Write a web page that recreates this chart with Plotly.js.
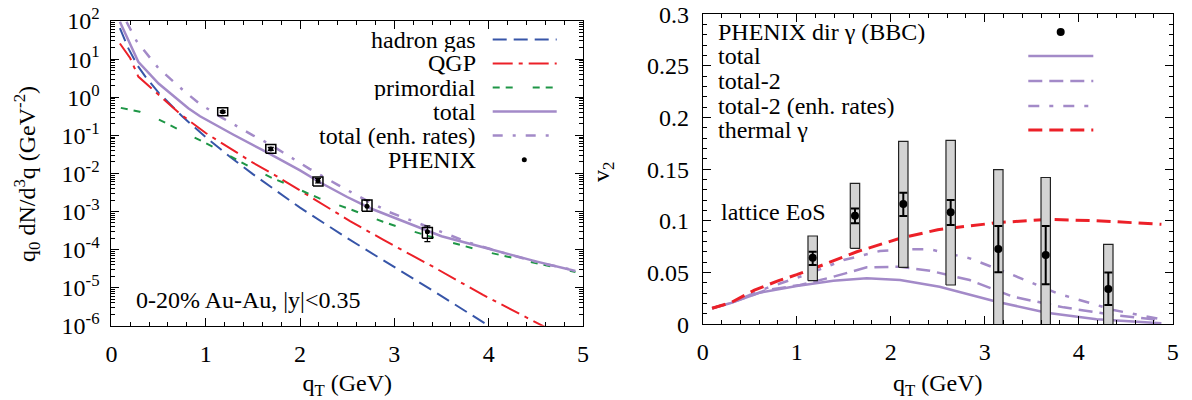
<!DOCTYPE html>
<html><head><meta charset="utf-8">
<script src="https://cdn.plot.ly/plotly-3.0.1.min.js"></script>
<style>html,body{margin:0;padding:0;background:#fff}#chart{width:1192px;height:400px}</style>
</head><body><div id="chart"></div>
<script>
// ---------- Left panel: q0 dN/d3q vs qT ----------
const hgQ = [0.09,0.18,0.28,0.36,0.5,0.75,1.0,1.25,1.5,1.75,2.0,2.5,3.0,3.5,4.0,4.1];
const hgY = [64.6,19.1,6.61,3.47,1.32,0.316,0.0891,0.0282,9.55e-3,3.39e-3,1.26e-3,2.0e-4,3.55e-5,6.03e-6,1.0e-6,6.92e-7];
const qgpQ = [0.09,0.2,0.285,0.5,0.73,1.0,1.3,1.5,1.75,2.0,2.53,2.88,3.41,3.94,4.56,4.65];
const qgpY = [25.7,10.5,3.47,1.15,0.363,0.115,0.0380,0.0191,8.51e-3,3.55e-3,5.62e-4,1.82e-4,3.55e-5,6.46e-6,1.05e-6,7.94e-7];
const primQ = [0.1,0.3,0.515,0.69,0.92,1.1,1.33,1.46,1.72,1.84,2.2,2.53,2.88,3.06,3.48,3.94,4.37,4.92];
const primY = [0.525,0.417,0.251,0.151,0.0794,0.0468,0.0229,0.0151,7.24e-3,5.50e-3,2.24e-3,1.15e-3,5.37e-4,3.80e-4,1.86e-4,9.12e-5,5.25e-5,2.57e-5];
const totQ = [0.09,0.285,0.5,0.815,0.94,1.17,1.29,1.65,2.0,2.2,2.35,2.5,2.75,3.0,3.35,3.5,4.0,4.5,4.92];
const totY = [95.5,8.51,2.29,0.513,0.316,0.151,0.105,0.0355,0.0120,6.03e-3,3.80e-3,2.40e-3,1.20e-3,6.76e-4,3.02e-4,2.24e-4,1.05e-4,4.90e-5,2.75e-5];
const enhQ = [0.16,0.27,0.5,0.78,0.94,1.18,1.5,1.69,1.82,2.1,2.4,2.62,2.95,3.45,3.8,4.2,4.6,4.92];
const enhY = [95.5,28.8,5.75,1.38,0.661,0.282,0.1,0.0562,0.0355,0.0132,5.01e-3,2.51e-3,9.55e-4,3.16e-4,1.51e-4,7.59e-5,4.17e-5,2.82e-5];
const phxQ = [1.18,1.69,2.19,2.71,3.35];
const phxY = [0.417,0.0437,0.00646,0.00138,2.95e-4];
const phxStatHi = [0.44,0.048,7.4e-3,2.0e-3,4.17e-4];
const phxStatLo = [0.395,0.040,5.6e-3,1.0e-3,1.62e-4];
const phxSysHi = [0.531,0.0575,8.1e-3,2.0e-3,3.8e-4];
const phxSysLo = [0.327,0.0339,4.7e-3,1.02e-3,2.0e-4];
const yTickVals = [1e-6,1e-5,1e-4,1e-3,1e-2,1e-1,1e0,1e1,1e2];
const yTickText = ['10<sup>-6</sup>','10<sup>-5</sup>','10<sup>-4</sup>','10<sup>-3</sup>','10<sup>-2</sup>','10<sup>-1</sup>','10<sup>0</sup>','10<sup>1</sup>','10<sup>2</sup>'];

// ---------- Right panel: v2 vs qT ----------
const v2TotQ = [0.1,0.29,0.61,1.0,1.39,1.745,2.1,2.418,2.52,3.128,3.66,4.19,4.88];
const v2TotY = [0.0155,0.0203,0.0306,0.037,0.0422,0.0445,0.0428,0.038,0.0364,0.0219,0.0112,0.0048,0.001];
const v2Tot2Q = [0.1,0.29,0.68,1.035,1.39,1.745,2.1,2.418,2.84,3.3,3.84,4.37,4.88];
const v2Tot2Y = [0.0155,0.0205,0.0332,0.038,0.046,0.0551,0.0557,0.0518,0.0428,0.0267,0.0164,0.009,0.004];
const v2EnhQ = [0.1,0.3,0.68,1.14,1.5,1.886,2.17,2.418,2.84,3.3,3.77,4.37,4.88];
const v2EnhY = [0.0155,0.021,0.035,0.0493,0.0622,0.0709,0.0725,0.0725,0.0638,0.0477,0.030,0.0138,0.0048];
const v2ThQ = [0.1,0.3,0.55,0.8,1.0,1.18,1.64,2.1,2.5,3.13,3.66,4.19,4.88];
const v2ThY = [0.0155,0.021,0.033,0.042,0.048,0.054,0.0702,0.0832,0.0915,0.0983,0.1015,0.1002,0.0968];
const v2DatQ = [1.17,1.62,2.134,2.638,3.145,3.649,4.315];
const v2DatY = [0.0644,0.105,0.1163,0.1083,0.0728,0.067,0.0341];
const v2ErrPlus = [0.0058,0.007,0.011,0.012,0.0222,0.028,0.016];
const v2ErrMinus = [0.0071,0.0073,0.0116,0.0123,0.0225,0.0283,0.0154];
const v2SysHi = [0.0854,0.1364,0.177,0.178,0.1497,0.142,0.0774];
const v2SysLo = [0.0422,0.0735,0.0551,0.038,-0.01,-0.01,-0.01];

const leftLegend = ['hadron gas','QGP','primordial','total','total (enh. rates)','PHENIX'];
const rightLegend = ['PHENIX dir γ (BBC)','total','total-2','total-2 (enh. rates)','thermal γ'];

// ---------- styles ----------
const FONT = 'Liberation Serif, Times New Roman, serif';
const FS = 24;
const BLUE = 'rgb(55,85,168)', RED = 'rgb(236,32,40)', GREEN = 'rgb(30,150,70)', PURP = 'rgb(163,138,200)';
const sHG = {color: BLUE, width: 2, dash: '14px,7px'};
const sQGP = {color: RED, width: 2, dash: '20px,6px,4px,6px'};
const sPR = {color: GREEN, width: 2, dash: '7px,6px,7px,20px'};
const sTOT = {color: PURP, width: 2.5};
const sENH = {color: PURP, width: 2.5, dash: '10px,10px,3px,10px'};
const sT2 = {color: PURP, width: 2.5, dash: '14px,7px'};
const sT2E = {color: PURP, width: 2.5, dash: '11px,10px,4px,10px'};
const sTH = {color: RED, width: 3, dash: '14px,7px'};

function boxes(q, lo, hi, hw) {
  const xs = [], ys = [];
  q.forEach((v, i) => {
    xs.push(v - hw, v + hw, v + hw, v - hw, v - hw, null);
    ys.push(lo[i], lo[i], hi[i], hi[i], lo[i], null);
  });
  return {x: xs, y: ys};
}
const lb = boxes(phxQ, phxSysLo, phxSysHi, 0.053);
const rb = boxes(v2DatQ, v2SysLo, v2SysHi, 0.05);

const line = (x, y, s, xa, ya) => ({x, y, type: 'scatter', mode: 'lines', line: s, xaxis: xa, yaxis: ya, showlegend: false, hoverinfo: 'skip'});

const traces = [
  line(hgQ, hgY, sHG, 'x', 'y'),
  line(qgpQ, qgpY, sQGP, 'x', 'y'),
  line(primQ, primY, sPR, 'x', 'y'),
  line(totQ, totY, sTOT, 'x', 'y'),
  line(enhQ, enhY, sENH, 'x', 'y'),
  {x: lb.x, y: lb.y, type: 'scatter', mode: 'lines', line: {color: '#000', width: 1.5}, xaxis: 'x', yaxis: 'y', showlegend: false, connectgaps: false},
  {x: phxQ, y: phxY, type: 'scatter', mode: 'markers', marker: {color: '#000', size: 5},
   error_y: {type: 'data', symmetric: false, array: phxStatHi.map((h, i) => h - phxY[i]), arrayminus: phxStatLo.map((l, i) => phxY[i] - l), color: '#000', thickness: 1.2, width: 3},
   xaxis: 'x', yaxis: 'y', showlegend: false},
  line(v2TotQ, v2TotY, sTOT, 'x2', 'y2'),
  line(v2Tot2Q, v2Tot2Y, sT2, 'x2', 'y2'),
  line(v2EnhQ, v2EnhY, sT2E, 'x2', 'y2'),
  line(v2ThQ, v2ThY, sTH, 'x2', 'y2'),
  {x: rb.x, y: rb.y, type: 'scatter', mode: 'lines', fill: 'toself', fillcolor: '#d3d3d3', line: {color: '#222', width: 1.2}, xaxis: 'x2', yaxis: 'y2', showlegend: false},
  {x: v2DatQ, y: v2DatY, type: 'scatter', mode: 'markers', marker: {color: '#000', size: 8},
   error_y: {type: 'data', symmetric: false, array: v2ErrPlus, arrayminus: v2ErrMinus, color: '#000', thickness: 2, width: 4},
   xaxis: 'x2', yaxis: 'y2', showlegend: false}
];

const W = 1192, H = 400;
const px = X => X / W, py = Y => 1 - Y / H;

// minor tick positions for the log axis
const minorLog = [];
for (let e = -6; e < 2; e++) for (let m = 2; m <= 9; m++) minorLog.push(m * Math.pow(10, e));

const axCommon = {
  showgrid: false, zeroline: false, showline: true, linecolor: '#000', linewidth: 1,
  mirror: 'allticks', ticks: 'inside', ticklen: 8, tickwidth: 1, tickcolor: '#000',
  tickfont: {family: FONT, size: FS, color: '#000'}
};

const layout = {
  width: W, height: H, margin: {l: 0, r: 0, t: 0, b: 0},
  paper_bgcolor: '#fff', plot_bgcolor: '#fff', showlegend: false,
  font: {family: FONT, size: FS, color: '#000'},
  xaxis: Object.assign({}, axCommon, {
    domain: [px(111.4), px(583)], range: [0, 5], dtick: 1, tick0: 0, anchor: 'y',
    minor: {dtick: 0.2, ticks: 'inside', ticklen: 4, tickcolor: '#000'},
    ticklabelstandoff: 6,
    title: {text: 'q<sub>T</sub> (GeV)', font: {family: FONT, size: FS}, standoff: 12}
  }),
  yaxis: Object.assign({}, axCommon, {
    domain: [py(325.8), py(21)], type: 'log', range: [-6, 2], anchor: 'x',
    tickmode: 'array', tickvals: yTickVals, ticktext: yTickText,
    minor: {tickmode: 'array', tickvals: minorLog, ticks: 'inside', ticklen: 4, tickcolor: '#000'},
    ticklabelstandoff: 6
  }),
  xaxis2: Object.assign({}, axCommon, {
    domain: [px(702.7), px(1172.7)], range: [0, 5], dtick: 1, tick0: 0, anchor: 'y2',
    minor: {dtick: 0.2, ticks: 'inside', ticklen: 4, tickcolor: '#000'},
    ticklabelstandoff: 6,
    title: {text: 'q<sub>T</sub> (GeV)', font: {family: FONT, size: FS}, standoff: 12}
  }),
  yaxis2: Object.assign({}, axCommon, {
    domain: [py(324.3), py(14.2)], range: [0, 0.3], dtick: 0.05, tick0: 0, anchor: 'x2',
    minor: {dtick: 0.01, ticks: 'inside', ticklen: 4, tickcolor: '#000'},
    ticklabelstandoff: 8
  }),
  annotations: [],
  shapes: []
};

// y-axis titles (placed like the original's side labels)
layout.annotations.push({xref: 'paper', yref: 'paper', x: px(27), y: py(174), xanchor: 'center', yanchor: 'middle', textangle: -90, showarrow: false, text: 'q<sub>0</sub> dN/d<sup>3</sup>q (GeV<sup>-2</sup>)', font: {family: FONT, size: FS}});
layout.annotations.push({xref: 'paper', yref: 'paper', x: px(603), y: py(172), xanchor: 'center', yanchor: 'middle', textangle: -90, showarrow: false, text: 'v<sub>2</sub>', font: {family: FONT, size: FS}});

// in-plot labels
layout.annotations.push({xref: 'paper', yref: 'paper', x: px(134), y: py(300), xanchor: 'left', yanchor: 'middle', showarrow: false, text: '0-20% Au-Au, |y|&lt;0.35', font: {family: FONT, size: FS}});
layout.annotations.push({xref: 'paper', yref: 'paper', x: px(719), y: py(212), xanchor: 'left', yanchor: 'middle', showarrow: false, text: 'lattice EoS', font: {family: FONT, size: FS}});

// left key (text right-aligned, sample on the right)
const leftRows = [39.5, 63.5, 87.5, 111.5, 135.5, 159.7];
const leftStyles = [sHG, sQGP, sPR, sTOT, sENH, null];
leftLegend.forEach((t, i) => {
  layout.annotations.push({xref: 'paper', yref: 'paper', x: px(478), y: py(leftRows[i]), xanchor: 'right', yanchor: 'middle', height: 24, showarrow: false, text: t, font: {family: FONT, size: FS}});
  if (leftStyles[i]) {
    layout.shapes.push({type: 'line', xref: 'paper', yref: 'paper', x0: px(492.7), x1: px(556.7), y0: py(leftRows[i]), y1: py(leftRows[i]), line: leftStyles[i]});
  } else {
    layout.shapes.push({type: 'circle', xref: 'paper', yref: 'paper', xsizemode: 'pixel', ysizemode: 'pixel', xanchor: px(524.3), yanchor: py(leftRows[i]), x0: -2.5, x1: 2.5, y0: -2.5, y1: 2.5, fillcolor: '#000', line: {width: 0}});
  }
});

// right key (text left-aligned, sample on the right)
const rightRows = [32, 56, 81, 106, 130];
const rightStyles = [null, sTOT, sT2, sT2E, sTH];
rightLegend.forEach((t, i) => {
  layout.annotations.push({xref: 'paper', yref: 'paper', x: px(716), y: py(rightRows[i]), xanchor: 'left', yanchor: 'middle', height: 24, showarrow: false, text: t, font: {family: FONT, size: FS}});
  if (rightStyles[i]) {
    layout.shapes.push({type: 'line', xref: 'paper', yref: 'paper', x0: px(1028.3), x1: px(1093.3), y0: py(rightRows[i]), y1: py(rightRows[i]), line: rightStyles[i]});
  } else {
    layout.shapes.push({type: 'circle', xref: 'paper', yref: 'paper', xsizemode: 'pixel', ysizemode: 'pixel', xanchor: px(1060.7), yanchor: py(rightRows[i]), x0: -4, x1: 4, y0: -4, y1: 4, fillcolor: '#000', line: {width: 0}});
  }
});

Plotly.newPlot('chart', traces, layout, {staticPlot: true, displayModeBar: false});
</script>
</body></html>
